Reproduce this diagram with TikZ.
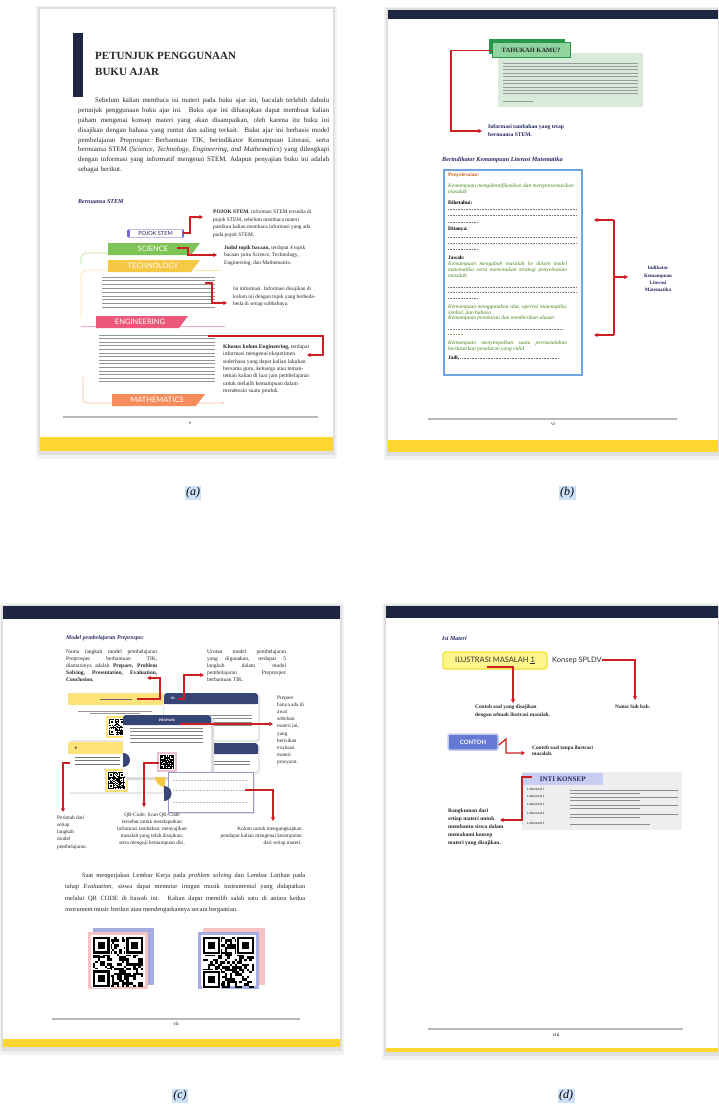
\documentclass[tikz,border=0pt]{standalone}
\usepackage{fontspec}
\setmainfont{Liberation Serif}
\setsansfont{Lato}
\usetikzlibrary{arrows.meta}
\definecolor{navy}{RGB}{30,38,66}
\definecolor{navytext}{RGB}{35,40,95}
\definecolor{bandyellow}{RGB}{253,214,50}
\definecolor{arrowred}{RGB}{205,30,35}
\definecolor{scigreen}{RGB}{125,195,85}
\definecolor{techyellow}{RGB}{245,200,70}
\definecolor{engpink}{RGB}{236,88,122}
\definecolor{mathorange}{RGB}{246,140,92}
\definecolor{litgreen}{RGB}{70,135,30}
\definecolor{penyorange}{RGB}{195,100,30}
\definecolor{boxblue}{RGB}{110,165,225}
\definecolor{cardnavy}{RGB}{55,68,118}
\definecolor{cardyellow}{RGB}{255,226,120}
\definecolor{cardpink}{RGB}{240,190,200}
\definecolor{lavborder}{RGB}{150,155,205}
\definecolor{pojokbar}{RGB}{125,105,225}
\definecolor{pojokline}{RGB}{195,185,235}
\definecolor{tgreenD}{RGB}{40,150,75}
\definecolor{tgreenL}{RGB}{145,212,160}
\definecolor{panelgreen}{RGB}{216,234,218}
\definecolor{qrblue}{RGB}{165,172,225}
\definecolor{qrpink}{RGB}{245,195,195}
\definecolor{ilusfill}{RGB}{255,245,140}
\definecolor{ilusborder}{RGB}{240,225,50}
\definecolor{contohblue}{RGB}{100,120,212}
\definecolor{lavhdr}{RGB}{200,205,242}
\definecolor{ikgray}{RGB}{238,238,241}
\definecolor{selblue}{RGB}{205,225,248}

\newcommand{\fz}[2]{\fontsize{#1}{#2}\selectfont}
\newcommand{\txtlines}[5]{\foreach \tli in {1,...,#4}{\draw[textline] (#1,{#2+(\tli-1)*#5}) -- ++(#3,0);}}
\newcommand{\bookpage}[4]{%
 \fill[black,opacity=0.05] ({#1-4},{#2-3}) rectangle ({#3+4},{#4+8});
 \fill[black,opacity=0.08] ({#1-2},{#2-1.5}) rectangle ({#3+2},{#4+4});
 \fill[white] (#1,#2) rectangle (#3,#4);}
\newcommand{\fakeqr}[4]{%
 \begin{scope}[shift={(#1,#2)}]
 \pgfmathsetmacro{\qrm}{#3/21}
 \pgfmathsetseed{#4}
 \foreach \qi in {0,...,20}{\foreach \qj in {0,...,20}{%
   \pgfmathtruncatemacro{\qrr}{rnd<0.5}%
   \ifnum\qrr=1 \fill[black] ({\qi*\qrm},{\qj*\qrm}) rectangle ++(\qrm,\qrm);\fi}}
 \foreach \qa/\qb in {0/0,14/0,0/14}{%
   \fill[white] ({(\qa-0.5)*\qrm},{(\qb-0.5)*\qrm}) rectangle ++({8*\qrm},{8*\qrm});
   \fill[black] ({\qa*\qrm},{\qb*\qrm}) rectangle ++({7*\qrm},{7*\qrm});
   \fill[white] ({(\qa+1)*\qrm},{(\qb+1)*\qrm}) rectangle ++({5*\qrm},{5*\qrm});
   \fill[black] ({(\qa+2)*\qrm},{(\qb+2)*\qrm}) rectangle ++({3*\qrm},{3*\qrm});}
 \end{scope}}

\begin{document}
\begin{tikzpicture}[x=1pt,y=-1pt,
 txt/.style={inner sep=0pt, anchor=north west, align=left},
 lbl/.style={inner sep=0pt, anchor=west},
 textline/.style={draw=black!42, line width=0.85pt},
 redarrow/.style={draw=arrowred, line width=1.3pt, -{Triangle[length=3.6pt,width=3.8pt]}},
 redline/.style={draw=arrowred, line width=1.3pt},
 bannertxt/.style={inner sep=0pt, text=white, font=\sffamily\fz{7.5}{8}},
 dotline/.style={draw=black!55, line width=0.6pt, dash pattern=on 0.9pt off 0.7pt},
 footline/.style={draw=black!28, line width=1.2pt},
 pagenum/.style={inner sep=0pt, font=\fz{5}{6}},
 caption/.style={fill=selblue, inner sep=1.5pt, font=\itshape\fz{12}{13}}]

\useasboundingbox (0,0) rectangle (718,1108);
\fill[white] (0,0) rectangle (718,1108);

%%%%%%%%%%%%%%%% PAGE (a)
\bookpage{40}{9}{333}{451}
\fill[bandyellow] (40,437) rectangle (333,451);
\fill[navy] (73,33) rectangle (83,97);
\node[txt, font=\bfseries\fz{11}{16}, text=black!85] (titlea) at (95,52.5) {PETUNJUK PENGGUNAAN\\BUKU AJAR};
\node[txt, text width=251pt, align=justify, font=\fz{6.9}{9.9}, text=black!85] (introa) at (78,97.5) {\hspace*{17pt}Sebelum kalian membaca isi materi pada buku ajar ini, bacalah terlebih dahulu \linebreak petunjuk penggunaan buku ajar ini. Buku ajar ini diharapkan dapat membuat kalian \linebreak paham mengenai konsep materi yang akan disampaikan, oleh karena itu buku ini \linebreak disajikan dengan bahasa yang runtut dan saling terkait. Buku ajar ini berbasis model \linebreak pembelajaran Preprospec Berbantuan TIK, berindikator Kemampuan Literasi, serta \linebreak bernuansa STEM (\textit{Science, Technology, Engineering, and Mathematics}) yang dilengkapi \linebreak dengan informasi yang informatif mengenai STEM. Adapun penyajian buku ini adalah \linebreak sebagai berikut.};
\node[lbl, font=\bfseries\itshape\fz{6}{7}, text=navytext] (bernuansa) at (78,202) {Bernuansa STEM};

% stem lines
\draw[scigreen!55, line width=0.7pt, rounded corners=6pt] (110,253) -- (81,253) -- (81,264);
\draw[techyellow!50, line width=0.7pt, rounded corners=6pt] (110,270) -- (81,270) -- (81,318);
\draw[techyellow!50, line width=0.7pt] (195,270) -- (220,270);
\draw[engpink!50, line width=0.7pt] (81,326) -- (225,326);
\draw[mathorange!60, line width=0.7pt, rounded corners=4pt, -{Stealth[length=2.5pt]}] (83,377) -- (83,403) -- (225,403);

% pojok stem
\fill[white] (128,229) rectangle (183,237);
\node[draw=pojokline, line width=0.6pt, minimum width=55pt, minimum height=8pt, inner sep=0pt, font=\sffamily\fz{5.6}{6}, text=navytext] (pojok) at (155.5,233) {POJOK STEM};
\fill[pojokbar] (127,229.5) rectangle (129.5,236.5);
\fill[pojokbar] (181.5,229.5) rectangle (184,236.5);

% banners
\fill[scigreen] (108,243) -- (200,243) -- (191,255) -- (108,255) -- cycle;
\node[bannertxt] (sci) at (153,249) {SCIENCE};
\fill[techyellow] (108,260) -- (200,260) -- (191,272) -- (108,272) -- cycle;
\node[bannertxt] (tech) at (153,266) {TECHNOLOGY};
\fill[engpink] (96,316) -- (188,316) -- (179,328) -- (96,328) -- cycle;
\node[bannertxt] (eng) at (140,322) {ENGINEERING};
\fill[mathorange] (112,394) -- (205,394) -- (196,406) -- (112,406) -- cycle;
\node[bannertxt] (math) at (157,400) {MATHEMATICS};

% info text blocks
\txtlines{102}{277}{113}{9}{3.8}
\txtlines{99}{335}{116}{14}{3.6}

% annotations page a
\node[txt, font=\fz{5.4}{7.7}, text=black!85] (pojoktxt) at (213,209.5) {\textbf{POJOK STEM}, informasi STEM tersedia di\\pojok STEM, sebelum membaca materi\\pastikan kalian membaca informasi yang ada\\pada pojok STEM.};
\node[txt, font=\fz{5.4}{7.5}, text=black!85] (judul) at (224,245.5) {\textbf{Judul topik bacaan,} terdapat 4 topik\\bacaan yaitu Science, Technology,\\Engineering, dan Mathematics.};
\node[txt, font=\fz{5.4}{7.5}, text=black!85] (isi) at (233,286.5) {Isi informasi. Informasi disajikan di\\kolom ini dengan topik yang berbeda-\\beda di setiap subbabnya.};
\node[txt, font=\fz{5.6}{7.3}, text=black!85] (khusus) at (223,344.5) {\textbf{Khusus kolom Engineering,} terdapat\\informasi mengenai eksperimen\\sederhana yang dapat kalian lakukan\\bersama guru, keluarga atau teman-\\teman kalian di luar jam pembelajaran\\untuk melatih kemampuan dalam\\mendesain suatu produk.};

\coordinate (pojokend) at (203,217);
\draw[redarrow] (pojok.east) -- (190,233) |- (pojokend);
\coordinate (scistart) at (177,248);
\coordinate (sciend) at (217,255);
\draw[redarrow] (scistart) -- (188,248) |- (sciend);
\coordinate (isistart) at (205,283);
\coordinate (isiend) at (227,303);
\draw[redarrow] (isistart) -- (212,283) |- (isiend);
\coordinate (engstart) at (208,336);
\coordinate (engend) at (307,355);
\draw[redarrow] (engstart) -- (323,336) |- (engend);

\draw[footline] (63,417) -- (318,417);
\node[pagenum] (pa) at (190,423) {v};

%%%%%%%%%%%%%%%% PAGE (b)
\bookpage{388}{10}{718}{452}
\fill[navy] (388,10) rectangle (718,19);
\fill[bandyellow] (388,440) rectangle (718,452);
\fill[panelgreen] (498,53) rectangle (643,107);
\foreach \tli in {1,...,10}{\draw[black!40, line width=0.6pt] (503,{63+(\tli-1)*3.4}) -- ++(135,0);}
\draw[black!40, line width=0.6pt] (503,101) -- (533,101);
\fill[tgreenD] (489,39) rectangle (565,54);
\node[draw=tgreenD, fill=tgreenL, line width=1pt, minimum width=78pt, minimum height=15pt, inner sep=0pt, font=\bfseries\fz{6.5}{7}, text=black!85] (tahu) at (531,50.5) {TAHUKAH KAMU?};
\coordinate (infoarr) at (482,131);
\draw[redarrow] (tahu.west) -- (451,50.5) |- (infoarr);
\node[txt, font=\bfseries\fz{5.6}{8}, text=navytext] (info) at (488,124.5) {Informasi tambahan yang tetap\\bernuansa STEM.};
\node[lbl, font=\bfseries\itshape\fz{6.2}{7}, text=navytext] (berind) at (442,160) {Berindikator Kemampuan Literasi Matematika};

\node[draw=boxblue, line width=1.3pt, minimum width=138pt, minimum height=205pt, inner sep=0pt] (litbox) at (513,272.5) {};
\node[lbl, font=\bfseries\fz{5.3}{6}, text=penyorange] (peny) at (448,175) {Penyelesaian:};
\node[txt, font=\itshape\fz{5.5}{6}, text=litgreen] (k1) at (448,183.5) {Kemampuan mengidentifikasikan dan merepresentasikan\\masalah};
\node[lbl, font=\bfseries\fz{5.3}{6}] (dik) at (448,203) {Diketahui:};
\draw[dotline] (448,209) -- (577,209);
\draw[dotline] (448,215) -- (577,215);
\draw[dotline] (448,222) -- (478,222);
\node[lbl, font=\bfseries\fz{5.3}{6}] (dit) at (448,229) {Ditanya:};
\draw[dotline] (448,237) -- (577,237);
\draw[dotline] (448,243) -- (577,243);
\draw[dotline] (448,249) -- (478,249);
\node[lbl, font=\bfseries\fz{5.3}{6}] (jaw) at (448,258) {Jawab:};
\node[txt, text width=119pt, align=justify, font=\itshape\fz{5.5}{6}, text=litgreen] (k2) at (448,261.5) {Kemampuan mengubah masalah ke dalam model \linebreak matematika serta menentukan strategi penyelesaian \linebreak masalah};
\draw[dotline] (448,287) -- (577,287);
\draw[dotline] (448,292) -- (577,292);
\draw[dotline] (448,298) -- (478,298);
\node[txt, text width=119pt, align=justify, font=\itshape\fz{5.5}{5.6}, text=litgreen] (k3) at (448,304.5) {Kemampuan menggunakan alat, operasi matematika, \linebreak simbol, dan bahasa\\Kemampuan penalaran dan memberikan alasan};
\draw[dotline] (448,329) -- (563,329);
\draw[dotline, draw=litgreen!60] (448,334) -- (463,334);
\node[txt, text width=119pt, align=justify, font=\itshape\fz{5.5}{5.6}, text=litgreen] (k4) at (448,340.5) {Kemampuan menyimpulkan suatu permasalahan \linebreak berdasarkan penalaran yang valid};
\node[lbl, font=\bfseries\fz{5.3}{6}] (jadi) at (448,358) {Jadi,};
\draw[dotline] ([xshift=1pt]jadi.east) -- (559,358);

\coordinate (brtop) at (594,220);
\coordinate (brbot) at (594,335);
\coordinate (brmid) at (628,277);
\draw[redline] (614,220) -- (614,335);
\draw[redarrow] (614,220) -- (brtop);
\draw[redarrow] (614,335) -- (brbot);
\draw[redarrow] (614,277) -- (brmid);
\node[font=\bfseries\fz{5}{7.3}, text=navytext, align=center, inner sep=0pt] (indik) at (658,279) {Indikator\\Kemampuan\\Literasi\\Matematika};

\draw[footline] (428,419) -- (677,419);
\node[pagenum] (pb) at (553,424) {vi};

%%%%%%%%%%%%%%%% PAGE (c)
\bookpage{3}{606}{340}{1047}
\fill[navy] (3,606) rectangle (340,619);
\fill[bandyellow] (3,1039) rectangle (340,1047);
\node[lbl, font=\bfseries\itshape\fz{5.8}{7}, text=navytext] (modelc) at (66,638) {Model pembelajaran Preprospec};
\node[txt, text width=91pt, align=justify, font=\fz{5.5}{7}, text=black!85] (namatxt) at (66,649.5) {Nama langkah model pembelajaran \linebreak Preprospec berbantuan TIK, \linebreak diantaranya adalah \textbf{Prepare, Problem \linebreak Solving, Presentation, Evaluation, \linebreak Conclusion.}};
\node[txt, text width=79pt, align=justify, font=\fz{5.5}{7}, text=black!85] (urutan) at (207,649.5) {Urutan model pembelajaran \linebreak yang digunakan, terdapat 5 \linebreak langkah dalam model \linebreak pembelajaran Preprospec \linebreak berbantuan TIK.};

% card A
\fill[black!10, rounded corners=3pt] (69.5,694.5) rectangle (165,742);
\fill[white, rounded corners=3pt] (68,693) rectangle (163,740);
\fill[cardyellow] (68,693) rectangle (163,705);
\draw[black!60, line width=0.8pt] (100,699) -- (132,699);
\draw[black!40, line width=0.6pt] (78,711) -- (152,711);
\draw[black!40, line width=0.6pt] (90,713.5) -- (140,713.5);
\fill[cardyellow] (106,716) rectangle (128,738);
\fill[white] (108,718) rectangle (126,736);
\fakeqr{109}{719}{16}{5}
% card B
\fill[black!10, rounded corners=3pt] (165.5,694.5) rectangle (260,742);
\fill[white, rounded corners=3pt] (164,693) rectangle (258,740);
\fill[cardnavy, rounded corners=3pt] (164,693) rectangle (258,704);
\fill[cardnavy] (164,699) rectangle (258,704);
\node[lbl, font=\bfseries\fz{3.5}{4}, text=white] (cb) at (171,698.5) {03};
\foreach \yy in {715,718.5,722,725.5}{\draw[black!45, line width=0.7pt] (210,\yy) -- (252,\yy);}
% card C
\fill[black!10, rounded corners=3pt] (69.5,743.5) rectangle (165,794);
\fill[white, rounded corners=3pt] (68,742) rectangle (163,792);
\fill[cardyellow] (68,742) rectangle (163,754);
\node[lbl, font=\bfseries\fz{3.5}{4}] (cc) at (75,748) {P};
\foreach \yy in {757,760.5,764}{\draw[black!55, line width=0.7pt] (75,\yy) -- (120,\yy);}
\fill[cardyellow] (105,769) rectangle (128,792);
\fill[white] (107,771) rectangle (126,790);
\fakeqr{108}{772}{17}{9}
% card D
\fill[black!10, rounded corners=3pt] (201.5,744.5) rectangle (260,774);
\fill[white, rounded corners=3pt] (200,743) rectangle (258,772);
\fill[cardnavy, rounded corners=3pt] (200,743) rectangle (258,754);
\fill[cardnavy] (200,749) rectangle (258,754);
\foreach \yy in {761,764.5}{\draw[black!50, line width=0.7pt] (210,\yy) -- (250,\yy);}
% card E (front)
\fill[black!14, rounded corners=3pt] (125,717) rectangle (214,780);
\fill[white, rounded corners=3pt] (123,715) rectangle (211,777);
\fill[cardnavy, rounded corners=3pt] (123,715) rectangle (211,725);
\fill[cardnavy] (123,721) rectangle (211,725);
\node[font=\bfseries\fz{3.5}{4}, text=white, inner sep=0pt] (prep) at (167,720) {PREPARE};
\foreach \yy in {728,731.5,735,738.5,742}{\draw[black!50, line width=0.7pt] (130,\yy) -- (203,\yy);}
\fill[cardpink] (157,752) rectangle (177,772);
\fill[white] (159,754) rectangle (175,770);
\fakeqr{160}{755}{14}{13}
\fill[cardnavy] (123,753) arc[start angle=-90, end angle=90, radius=7] -- cycle;
\fill[techyellow] (165,777) -- (155,777) arc[start angle=180, end angle=90, radius=10] -- cycle;
% card F
\fill[black!10] (170,774) rectangle (255,814);
\fill[white] (168,772) rectangle (253,812);
\draw[lavborder, line width=0.8pt] (168,772) rectangle (253,812);
\foreach \yy in {780,790,802}{\draw[black!25, line width=0.6pt, dash pattern=on 2pt off 1pt] (173,\yy) -- (248,\yy);}
\fill[cardnavy] (164,786) arc[start angle=-90, end angle=90, radius=7.5] -- cycle;

% arrows page c
\coordinate (c1s) at (137,699); \coordinate (c1e) at (147,678);
\draw[redarrow] (c1s) -- (160,699) |- (c1e);
\coordinate (c2s) at (178,699); \coordinate (c2e) at (204,675);
\draw[redarrow] (c2s) -- (184,699) |- (c2e);
\coordinate (c3s) at (180,724); \coordinate (c3e) at (273,724);
\draw[redarrow] (c3s) -- (c3e);
\coordinate (c4s) at (70,763); \coordinate (c4e) at (63,812);
\draw[redarrow] (c4s) -| (c4e);
\coordinate (c5s) at (159,763); \coordinate (c5e) at (144,807);
\draw[redarrow] (c5s) -| (c5e);
\coordinate (c6s) at (245,790); \coordinate (c6e) at (273,821);
\draw[redarrow] (c6s) -| (c6e);

\node[txt, font=\fz{5.3}{7.2}, text=black!85] (preptxt) at (277,695.5) {Prepare\\hanya ada di\\awal\\sebelum\\materi ini,\\yang\\berisikan\\evaluasi\\materi\\prasyarat.};
\node[txt, font=\fz{5.3}{7.2}, text=black!85] (perintah) at (57,815.5) {Perintah dari\\setiap\\langkah\\model\\pembelajaran.};
\node[font=\fz{5.3}{7}, align=center, inner sep=0pt, anchor=north, text=black!85] (qrtxt) at (152,812.5) {QR-Code. Scan QR-Code\\tersebut untuk mendapatkan\\informasi tambahan, menyajikan\\masalah yang telah disajikan,\\serta menguji kemampuan diri.};
\node[anchor=north east, align=right, font=\fz{5.3}{7}, inner sep=0pt, text=black!85] (kolom) at (302,826.5) {Kolom untuk mengungkapkan\\pendapat kalian mengenai kesimpulan\\dari setiap materi.};

\node[txt, text width=240pt, align=justify, font=\fz{6.4}{11.5}, text=black!85] (parac) at (65,872.5) {\hspace*{17pt}Saat mengerjakan Lembar Kerja pada \textit{problem solving} dan Lembar Latihan pada \linebreak tahap \textit{Evaluation}, siswa dapat memutar iringan musik instrumental yang didapatkan \linebreak melalui QR CODE di bawah ini. Kalian dapat memilih salah satu di antara kedua \linebreak instrument music berikut atau mendengarkannya secara bergantian.};

% QR codes
\fill[qrblue] (93,928) rectangle (154,985);
\fill[qrpink] (88,932) rectangle (148,989);
\fill[white] (91,935) rectangle (145,986);
\fakeqr{93}{937}{50}{11}
\fill[qrpink] (203,928) rectangle (265,985);
\fill[qrblue] (198,932) rectangle (259,989);
\fill[white] (201,935) rectangle (256,986);
\fakeqr{203}{937}{51}{23}

\draw[footline] (52,1019) -- (300,1019);
\node[pagenum] (pc) at (176,1024) {vii};

%%%%%%%%%%%%%%%% PAGE (d)
\bookpage{386}{606}{718}{1052}
\fill[navy] (386,606) rectangle (718,618);
\fill[bandyellow] (386,1048) rectangle (718,1052);
\node[lbl, font=\bfseries\itshape\fz{6}{7}, text=navytext] (isimateri) at (442,638) {Isi Materi};
\node[draw=ilusborder, fill=ilusfill, line width=1.3pt, rounded corners=3pt, minimum width=104pt, minimum height=17pt, inner sep=0pt, font=\sffamily\fz{7.5}{8}, text=black!80] (ilus) at (495,660.5) {ILUSTRASI MASALAH \underline{1}};
\node[lbl, font=\sffamily\fz{7.5}{8}, text=black!80] (konsep) at (552,660) {Konsep SPLDV};
\coordinate (d1s) at (487,667); \coordinate (d1e) at (513,703);
\draw[redarrow] (d1s) -| (d1e);
\coordinate (d2e) at (635,700);
\draw[redarrow] (konsep.east) -| (d2e);
\node[txt, font=\bfseries\fz{5.3}{8}, text=black!85] (contohsoal) at (475,704.5) {Contoh soal yang disajikan\\dengan sebuah ilustrasi masalah.};
\node[lbl, font=\bfseries\fz{5.3}{8}, text=black!85] (namasub) at (615,707) {Nama Sub bab.};

\node[fill=contohblue, draw=contohblue!40, line width=1.5pt, rounded corners=2pt, minimum width=50pt, minimum height=16pt, inner sep=0pt, font=\sffamily\bfseries\fz{6}{7}, text=white] (contoh) at (473,742) {CONTOH};
\coordinate (d3e) at (525,753);
\draw[redarrow] ([yshift=-3pt]contoh.east) -- (506,739) |- (d3e);
\node[txt, font=\bfseries\fz{5.3}{6.5}, text=black!85] (tanpa) at (532,745.5) {Contoh soal tanpa ilustrasi\\masalah.};

\fill[ikgray] (522,772) rectangle (682,830);
\node[fill=lavhdr, minimum width=81pt, minimum height=12pt, inner sep=0pt, anchor=north west, font=\bfseries\fz{7}{8}, text=navytext] (inti) at (522,773) {INTI KONSEP};
\foreach \lk/\yy in {1/790,2/797,3/805,4/814,5/824}{\node[lbl, font=\fz{3}{3}] at (527,\yy) {LANGKAH \lk};}
\foreach \yy in {790,797,805,814}{\draw[black!45, line width=0.6pt] (570,\yy) -- (678,\yy); \draw[black!45, line width=0.6pt] (570,{\yy+3.3}) -- (640,{\yy+3.3});}
\draw[black!45, line width=0.6pt] (570,824) -- (650,824);
\coordinate (d4s) at (532,777); \coordinate (d4e) at (500,820);
\draw[redarrow] (d4s) -- (522,777) |- (d4e);
\node[txt, font=\bfseries\fz{5.5}{8}, text=black!85] (rangkum) at (448,808.5) {Rangkuman dari\\setiap materi untuk\\membantu siswa dalam\\memahami konsep\\materi yang disajikan.};

\draw[footline] (428,1029) -- (683,1029);
\node[pagenum] (pd) at (556,1035) {viii};

%%%%%%%%%%%%%%%% captions
\node[caption] (capa) at (193,493) {(a)};
\node[caption] (capb) at (567,493) {(b)};
\node[caption] (capc) at (180,1096) {(c)};
\node[caption] (capd) at (566,1096) {(d)};
\end{tikzpicture}
\end{document}
